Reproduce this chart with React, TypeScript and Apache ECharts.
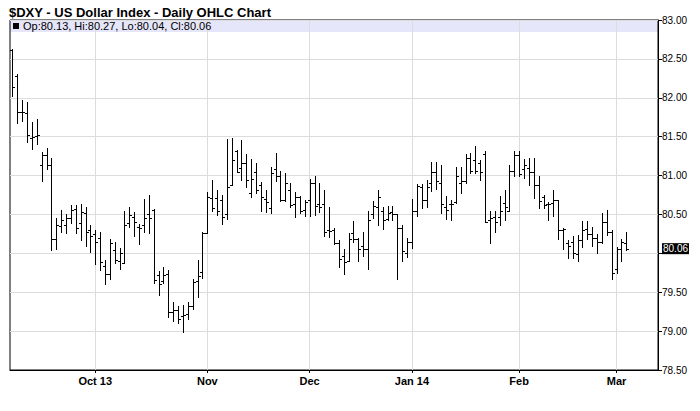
import React, { useEffect, useRef } from 'react';
import * as echarts from 'echarts';

// ---- Data ----
const START_DATE = '2013-09-06';
const END_DATE = '2014-03-05';
const HOLIDAYS = ['2013-12-25', '2014-01-01'];
const PAD_SLOTS = ['p1', 'p2', 'p3', 'p4', 'p5', 'p6'];

const MONTH_LABELS: Record<string, string> = {
  '2013-10-01': 'Oct 13',
  '2013-11-01': 'Nov',
  '2013-12-02': 'Dec',
  '2014-01-02': 'Jan 14',
  '2014-02-03': 'Feb',
  '2014-03-03': 'Mar',
};

const opens = [
  82.61, 82.28, 81.82, 81.81, 81.48, 81.51, 81.14, 81.26, 81.14, 80.18,
  80.35, 80.37, 80.45, 80.57, 80.39, 80.52, 80.30, 80.25, 80.20, 79.84,
  79.74, 80.04, 79.90, 79.87, 80.39, 80.47, 80.34, 80.36, 80.50, 80.56,
  79.72, 79.64, 79.74, 79.25, 79.27, 79.19, 79.22, 79.32, 79.64, 79.76,
  80.26, 80.71, 80.71, 80.68, 80.50, 80.88, 81.32, 81.10, 81.16, 80.78,
  81.05, 80.88, 80.70, 80.58, 81.09, 80.99, 80.68, 80.81, 80.63, 80.72,
  80.56, 80.68, 80.90, 80.64, 80.63, 80.30, 80.30, 80.13, 79.97, 79.90,
  80.26, 80.19, 80.10, 80.05, 80.50, 80.60, 80.55, 80.44, 80.53, 80.50,
  80.32, 80.00, 80.14, 80.55, 80.85, 80.68, 80.91, 81.04, 80.91, 80.59,
  80.63, 80.66, 80.91, 80.93, 81.22, 81.20, 81.16, 81.28, 80.43, 80.47,
  80.47, 80.65, 80.54, 81.06, 81.26, 81.08, 81.10, 81.04, 80.88, 80.73,
  80.63, 80.65, 80.68, 80.30, 80.13, 80.15, 79.99, 80.17, 80.31, 80.25,
  80.20, 80.14, 80.40, 80.28, 79.80, 80.06, 80.13,
];
const highs = [
  82.63, 82.30, 81.97, 81.94, 81.69, 81.73, 81.30, 81.35, 81.22, 80.45,
  80.56, 80.51, 80.62, 80.62, 80.64, 80.59, 80.36, 80.30, 80.28, 79.91,
  80.18, 80.14, 80.07, 80.55, 80.60, 80.53, 80.38, 80.70, 80.75, 80.57,
  79.77, 79.83, 79.78, 79.38, 79.32, 79.33, 79.38, 79.67, 79.91, 80.28,
  80.79, 80.94, 80.82, 80.75, 81.47, 81.48, 81.33, 81.46, 81.28, 81.21,
  81.16, 80.92, 80.82, 81.11, 81.29, 81.06, 81.03, 80.90, 80.79, 80.74,
  80.68, 80.96, 80.99, 80.91, 80.81, 80.59, 80.32, 80.17, 80.05, 80.26,
  80.42, 80.20, 80.27, 80.55, 80.67, 80.81, 80.60, 80.61, 80.61, 80.51,
  80.36, 80.20, 80.70, 80.89, 80.89, 80.94, 81.17, 81.17, 81.13, 80.74,
  80.68, 81.11, 81.11, 81.28, 81.29, 81.38, 81.20, 81.31, 80.55, 80.55,
  80.74, 80.81, 81.14, 81.32, 81.32, 81.21, 81.23, 81.22, 80.99, 80.75,
  80.66, 80.82, 80.69, 80.32, 80.17, 80.22, 80.23, 80.42, 80.42, 80.34,
  80.25, 80.52, 80.56, 80.30, 80.08, 80.19, 80.27,
];
const lows = [
  82.02, 81.68, 81.70, 81.43, 81.34, 81.40, 80.93, 81.09, 80.04, 80.05,
  80.27, 80.26, 80.39, 80.26, 80.17, 80.09, 80.02, 79.86, 79.78, 79.61,
  79.67, 79.87, 79.80, 79.87, 80.34, 80.22, 80.12, 80.28, 80.26, 79.62,
  79.46, 79.62, 79.18, 79.13, 79.10, 78.99, 79.16, 79.29, 79.44, 79.68,
  80.26, 80.54, 80.49, 80.38, 80.44, 80.88, 81.04, 80.94, 80.85, 80.72,
  80.77, 80.55, 80.53, 80.52, 80.93, 80.67, 80.67, 80.60, 80.47, 80.52,
  80.48, 80.48, 80.49, 80.53, 80.22, 80.21, 80.12, 79.82, 79.74, 79.90,
  80.15, 79.90, 79.97, 79.80, 80.46, 80.36, 80.31, 80.43, 80.43, 79.67,
  79.90, 79.95, 80.07, 80.48, 80.58, 80.59, 80.80, 80.83, 80.52, 80.44,
  80.43, 80.65, 80.77, 80.91, 81.03, 81.03, 80.94, 80.40, 80.13, 80.28,
  80.37, 80.43, 80.54, 81.00, 81.00, 80.97, 80.88, 80.71, 80.58, 80.58,
  80.43, 80.48, 80.18, 80.05, 79.94, 79.94, 79.90, 80.08, 80.18, 80.09,
  80.00, 80.13, 80.23, 79.67, 79.75, 79.90, 80.04,
];
const closes = [
  82.14, 81.82, 81.82, 81.52, 81.49, 81.52, 81.26, 81.14, 80.18, 80.36,
  80.43, 80.45, 80.56, 80.33, 80.53, 80.28, 80.22, 80.15, 79.89, 79.74,
  80.13, 79.91, 80.00, 80.36, 80.49, 80.40, 80.33, 80.45, 80.46, 79.66,
  79.61, 79.72, 79.25, 79.27, 79.16, 79.21, 79.32, 79.63, 79.71, 80.26,
  80.72, 80.58, 80.54, 80.47, 80.85, 81.20, 81.05, 81.16, 80.94, 80.95,
  80.82, 80.72, 80.66, 81.03, 80.99, 80.68, 80.91, 80.62, 80.72, 80.55,
  80.66, 80.90, 80.61, 80.60, 80.28, 80.29, 80.13, 79.93, 79.89, 80.18,
  80.19, 80.06, 80.05, 80.43, 80.61, 80.72, 80.43, 80.52, 80.51, 80.33,
  80.03, 80.14, 80.55, 80.86, 80.68, 80.85, 81.04, 80.93, 80.63, 80.56,
  80.63, 80.99, 80.93, 81.22, 81.06, 81.06, 81.04, 80.40, 80.45, 80.40,
  80.54, 80.59, 81.06, 81.26, 81.02, 81.13, 81.04, 80.88, 80.67, 80.62,
  80.63, 80.68, 80.30, 80.31, 80.10, 80.00, 80.17, 80.30, 80.25, 80.20,
  80.14, 80.40, 80.28, 79.75, 80.06, 80.15, 80.06,
];

const Y_MIN = 78.5;
const Y_MAX = 83.0;
const Y_STEP = 0.5;

const TITLE = '$DXY - US Dollar Index - Daily OHLC Chart';
const FONT = '"Liberation Sans", Arial, Helvetica, sans-serif';

function buildTradingDays(start: string, end: string, holidays: string[]): string[] {
  const out: string[] = [];
  const d = new Date(start + 'T00:00:00Z');
  const e = new Date(end + 'T00:00:00Z');
  while (d.getTime() <= e.getTime()) {
    const wd = d.getUTCDay();
    const s = d.toISOString().slice(0, 10);
    if (wd !== 0 && wd !== 6 && holidays.indexOf(s) < 0) out.push(s);
    d.setUTCDate(d.getUTCDate() + 1);
  }
  return out;
}

export default function App() {
  const ref = useRef<HTMLDivElement>(null);

  useEffect(() => {
    if (!ref.current) return;
    const chart = echarts.init(ref.current, undefined, { renderer: 'svg' });

    const dates = buildTradingDays(START_DATE, END_DATE, HOLIDAYS);
    const categories = dates.concat(PAD_SLOTS);
    const n = Math.min(dates.length, opens.length);
    const ohlc = [] as number[][];
    for (let i = 0; i < n; i++) ohlc.push([i, opens[i], highs[i], lows[i], closes[i]]);
    const last = n - 1;
    const lastClose = closes[last];
    const legendText =
      'Op:' + opens[last].toFixed(2) + ', Hi:' + highs[last].toFixed(2) +
      ', Lo:' + lows[last].toFixed(2) + ', Cl:' + closes[last].toFixed(2);

    const monthDates = Object.keys(MONTH_LABELS);

    const option: any = {
      animation: false,
      backgroundColor: '#fff',
      textStyle: { fontFamily: FONT },
      title: {
        text: TITLE,
        left: 4,
        top: 1,
        textStyle: { fontFamily: FONT, fontSize: 13, fontWeight: 'bold', color: '#000' },
      },
      grid: {
        left: 10,
        right: 42,
        top: 20,
        bottom: 41,
        show: true,
        borderColor: '#000',
        borderWidth: 1,
        backgroundColor: 'transparent',
      },
      graphic: [
        {
          type: 'rect',
          z: -10,
          shape: { x: 10, y: 20, width: 648, height: 12 },
          style: { fill: '#e6e6fa' },
          silent: true,
        },
        {
          type: 'rect',
          z: 10,
          shape: { x: 13, y: 23, width: 6, height: 6 },
          style: { fill: '#000' },
          silent: true,
        },
        {
          type: 'text',
          z: 10,
          x: 23,
          y: 26,
          style: {
            text: legendText,
            fill: '#000',
            font: '11px ' + FONT,
            verticalAlign: 'middle',
          },
          silent: true,
        },
      ],
      xAxis: {
        type: 'category',
        data: categories,
        boundaryGap: true,
        axisLine: { show: true, lineStyle: { color: '#000', width: 1 } },
        axisTick: {
          show: true,
          alignWithLabel: true,
          length: 3,
          interval: (_i: number, v: string) => MONTH_LABELS[v] !== undefined,
          lineStyle: { color: '#000' },
        },
        axisLabel: {
          interval: (_i: number, v: string) => MONTH_LABELS[v] !== undefined,
          formatter: (v: string) => MONTH_LABELS[v] || '',
          color: '#000',
          fontSize: 11,
          fontWeight: 'bold',
          fontFamily: FONT,
          margin: 5,
        },
        splitLine: { show: false },
      },
      yAxis: {
        type: 'value',
        position: 'right',
        min: Y_MIN,
        max: Y_MAX,
        interval: Y_STEP,
        axisLine: { show: true, lineStyle: { color: '#000', width: 1 } },
        axisTick: { show: true, length: 4, lineStyle: { color: '#000' } },
        axisLabel: {
          color: '#000',
          fontSize: 10,
          fontFamily: FONT,
          margin: 4,
          formatter: (v: number) => (Math.abs(v - lastClose) < 0.15 ? '' : v.toFixed(2)),
        },
        splitLine: { show: true, lineStyle: { color: '#dcdcdc', width: 1 } },
      },
      series: [
        {
          type: 'line',
          data: [],
          z: 1,
          silent: true,
          markLine: {
            silent: true,
            symbol: ['none', 'none'],
            label: { show: false },
            lineStyle: { color: '#dcdcdc', type: 'solid', width: 1 },
            data: monthDates.map((d) => ({ xAxis: d })),
          },
        },
        {
          type: 'custom',
          z: 5,
          data: ohlc,
          encode: { x: 0, y: [1, 2, 3, 4] },
          renderItem: (_params: any, api: any) => {
            const idx = api.value(0);
            const o = api.coord([idx, api.value(1)]);
            const h = api.coord([idx, api.value(2)]);
            const l = api.coord([idx, api.value(3)]);
            const c = api.coord([idx, api.value(4)]);
            const cx = Math.round(h[0]) + 0.5;
            const style = { stroke: '#000', lineWidth: 1, fill: null };
            const oy = Math.round(o[1]) + 0.5;
            const cy = Math.round(c[1]) + 0.5;
            return {
              type: 'group',
              children: [
                { type: 'line', shape: { x1: cx, y1: Math.round(h[1]), x2: cx, y2: Math.round(l[1]) + 1 }, style },
                { type: 'line', shape: { x1: cx - 2.5, y1: oy, x2: cx, y2: oy }, style },
                { type: 'line', shape: { x1: cx, y1: cy, x2: cx + 2.5, y2: cy }, style },
              ],
            };
          },
        },
        {
          type: 'line',
          data: [],
          z: 6,
          silent: true,
          markLine: {
            silent: true,
            symbol: ['none', 'none'],
            lineStyle: { color: '#000', width: 0, opacity: 0 },
            label: {
              show: true,
              position: 'end',
              distance: 4,
              formatter: lastClose.toFixed(2),
              color: '#fff',
              backgroundColor: '#000',
              fontSize: 10,
              fontFamily: FONT,
              padding: [1, 1, 0, 1],
              opacity: 1,
            },
            data: [{ yAxis: lastClose }],
          },
        },
      ],
    };

    chart.setOption(option);
    return () => chart.dispose();
  }, []);

  return (
    <div
      ref={ref}
      style={{ position: 'fixed', left: 0, top: 0, width: 700, height: 411, background: '#fff' }}
    />
  );
}
